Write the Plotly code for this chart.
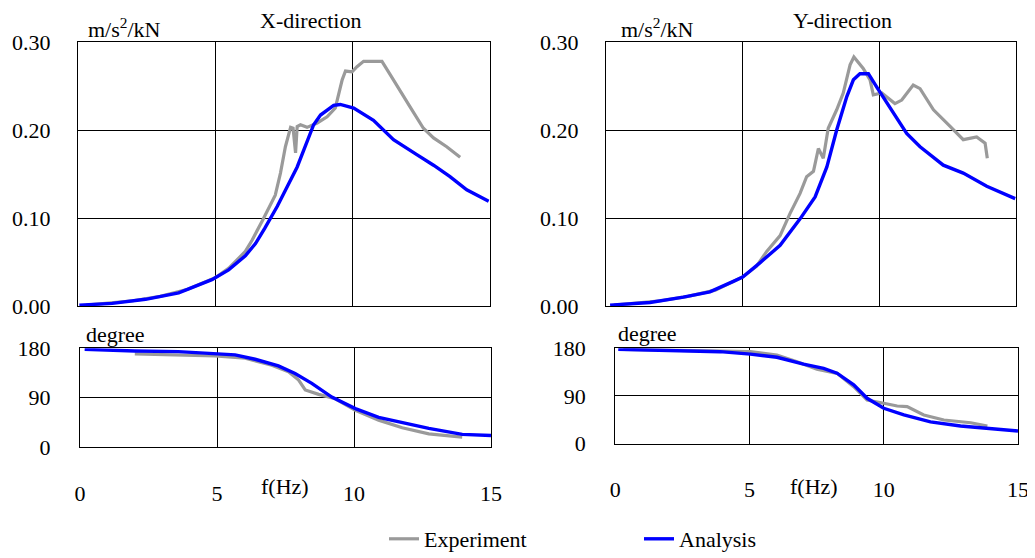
import plotly.graph_objects as go

# ---------------- data ----------------
# X-direction, magnitude (m/s^2/kN)
x_mag_ana_f = [0.05, 1.25, 2.46, 3.67, 4.88, 5.49, 6.10, 6.47, 6.80, 7.26, 7.99, 8.59, 8.84, 9.32, 9.56,
               10.05, 10.77, 11.50, 12.35, 12.96, 13.56, 14.17, 14.97]
x_mag_ana_v = [0.001, 0.003, 0.0076, 0.015, 0.030, 0.041, 0.057, 0.071, 0.088, 0.113, 0.158, 0.206, 0.217,
               0.228, 0.229, 0.225, 0.211, 0.189, 0.172, 0.160, 0.147, 0.132, 0.119]
x_mag_exp_f = [0.3, 2.0, 3.0, 4.0, 5.0, 5.5, 6.10, 6.35, 6.72, 7.02, 7.19, 7.38, 7.56, 7.75, 7.84, 7.93,
               7.99, 8.11, 8.35, 8.72, 9.08, 9.38, 9.50, 9.63, 9.75, 9.99, 10.17, 10.41, 10.77, 11.08,
               11.38, 11.75, 12.11, 12.59, 12.96, 13.44, 13.68, 13.93]
x_mag_exp_v = [0.001, 0.006, 0.011, 0.019, 0.032, 0.043, 0.062, 0.075, 0.097, 0.115, 0.126, 0.151, 0.181,
               0.203, 0.202, 0.174, 0.204, 0.206, 0.203, 0.208, 0.215, 0.225, 0.242, 0.257, 0.267, 0.266,
               0.272, 0.278, 0.278, 0.278, 0.263, 0.245, 0.226, 0.202, 0.191, 0.181, 0.175, 0.169]

# X-direction, phase (degree)
x_ph_ana_f = [0.17, 2.0, 3.59, 4.93, 5.66, 6.39, 7.24, 7.85, 8.46, 9.19, 10.05, 10.90, 11.76, 12.73, 13.95, 15.0]
x_ph_ana_v = [178, 175, 174, 170, 168, 160, 148, 134, 116, 91, 70, 54, 44, 34, 23, 21]
x_ph_exp_f = [2.0, 3.59, 4.93, 6.03, 7.0, 7.61, 7.98, 8.22, 8.71, 9.32, 10.05, 10.90, 11.76, 12.73, 13.95]
x_ph_exp_v = [170, 168, 166, 162, 149, 137, 122, 104, 96, 88, 67, 49, 35, 24, 18]

# Y-direction, magnitude (m/s^2/kN)
y_mag_ana_f = [0.15, 1.61, 2.83, 3.80, 4.66, 5.0, 5.63, 6.37, 7.10, 7.65, 8.08, 8.44, 8.81, 9.05, 9.29,
               9.60, 9.90, 10.39, 11.00, 11.49, 12.34, 13.07, 13.93, 14.97]
y_mag_ana_v = [0.001, 0.004, 0.010, 0.016, 0.028, 0.033, 0.049, 0.069, 0.099, 0.124, 0.158, 0.200, 0.238,
               0.257, 0.264, 0.264, 0.249, 0.225, 0.196, 0.181, 0.160, 0.151, 0.136, 0.122]
y_mag_exp_f = [0.3, 2.0, 3.0, 4.0, 5.0, 5.5, 5.88, 6.37, 6.73, 7.10, 7.34, 7.59, 7.77, 7.95, 8.13, 8.44,
               8.68, 8.93, 9.07, 9.41, 9.66, 9.78, 10.09, 10.57, 10.82, 11.24, 11.49, 11.98, 12.59,
               13.07, 13.56, 13.87, 13.95]
y_mag_exp_v = [0.001, 0.006, 0.011, 0.018, 0.033, 0.045, 0.062, 0.080, 0.105, 0.128, 0.147, 0.153, 0.179,
               0.168, 0.202, 0.223, 0.242, 0.274, 0.283, 0.270, 0.257, 0.240, 0.242, 0.230, 0.234, 0.251,
               0.247, 0.223, 0.204, 0.189, 0.192, 0.185, 0.168]

# Y-direction, phase (degree)
y_ph_ana_f = [0.11, 2.29, 3.9, 5.03, 6.02, 7.01, 7.76, 8.26, 8.88, 9.38, 10.0, 10.75, 11.74, 12.86, 13.86, 15.0]
y_ph_ana_v = [178, 175.5, 173.6, 169, 163, 150, 142, 133, 111, 85.5, 66.6, 54, 41, 33, 28.7, 23.6]
y_ph_exp_f = [0.3, 2.0, 3.9, 5.03, 6.02, 6.77, 7.51, 8.26, 8.88, 9.38, 10.0, 10.5, 10.87, 11.49, 12.24,
              13.24, 13.86]
y_ph_exp_v = [178, 176, 174.5, 173.6, 167.3, 154.7, 140.3, 132.7, 107.4, 82.2, 76, 70.9, 69.6, 53.9,
              44.4, 39.3, 33.1]

mag_ticks = [0.0, 0.1, 0.2, 0.3]
phase_ticks = [0, 90, 180]
f_ticks = [0, 5, 10, 15]

names = ["Experiment", "Analysis"]
GRAY = "#9a9a9a"
BLUE = "#0000ff"
FONT = "Liberation Serif, Times New Roman, Times, serif"

# ---------------- figure ----------------
# the page body has an 8px margin, so the figure starts 8px in from the window edge
OFF = 8
W, H = 1035 - OFF, 558 - OFF
def px(v):
    return (v - OFF) / W
def py(v):
    return 1 - (v - OFF) / H

fig = go.Figure()

panels = [
    ("x", "y", x_mag_exp_f, x_mag_exp_v, x_mag_ana_f, x_mag_ana_v, True),
    ("x2", "y2", x_ph_exp_f, x_ph_exp_v, x_ph_ana_f, x_ph_ana_v, False),
    ("x3", "y3", y_mag_exp_f, y_mag_exp_v, y_mag_ana_f, y_mag_ana_v, False),
    ("x4", "y4", y_ph_exp_f, y_ph_exp_v, y_ph_ana_f, y_ph_ana_v, False),
]
for xa, ya, ef, ev, af, av, sl in panels:
    fig.add_trace(go.Scatter(x=ef, y=ev, mode="lines", name=names[0], xaxis=xa, yaxis=ya,
                             line=dict(color=GRAY, width=3.2), showlegend=sl, legendgroup="e"))
    fig.add_trace(go.Scatter(x=af, y=av, mode="lines", name=names[1], xaxis=xa, yaxis=ya,
                             line=dict(color=BLUE, width=3.4), showlegend=sl, legendgroup="a"))

tf = dict(family=FONT, size=22, color="black")
common_x = dict(range=[0, 15], tickvals=f_ticks, showgrid=True, gridcolor="black", gridwidth=1,
                showline=True, linecolor="black", linewidth=1.3, mirror=True, zeroline=False,
                ticks="", tickfont=tf, automargin=False, ticklabeloverflow="allow")
common_y = dict(showgrid=True, gridcolor="black", gridwidth=1, showline=True, linecolor="black",
                linewidth=1.3, mirror=True, zeroline=False, ticks="", tickfont=tf, automargin=False,
                ticklabeloverflow="allow")

fig.update_layout(
    width=W, height=H,
    margin=dict(l=0, r=0, t=0, b=0, autoexpand=False),
    paper_bgcolor="white", plot_bgcolor="white",
    font=dict(family=FONT, size=22, color="black"),
    xaxis=dict(common_x, domain=[px(78), px(489.5)], showticklabels=False, anchor="y"),
    yaxis=dict(common_y, domain=[py(306), py(42)], range=[0, 0.3], tickvals=mag_ticks,
               tickformat=".2f", ticklabelstandoff=22, anchor="x"),
    xaxis2=dict(common_x, domain=[px(80), px(491)], anchor="y2", ticklabelstandoff=26),
    yaxis2=dict(common_y, domain=[py(447), py(348.3)], range=[0, 180], tickvals=phase_ticks,
                ticklabelstandoff=24, anchor="x2"),
    xaxis3=dict(common_x, domain=[px(606), px(1016)], showticklabels=False, anchor="y3"),
    yaxis3=dict(common_y, domain=[py(306), py(42)], range=[0, 0.3], tickvals=mag_ticks,
                tickformat=".2f", ticklabelstandoff=22, anchor="x3"),
    xaxis4=dict(common_x, domain=[px(615.3), px(1018)], anchor="y4", ticklabelstandoff=26),
    yaxis4=dict(common_y, domain=[py(443.5), py(348.3)], range=[0, 180], tickvals=phase_ticks,
                ticklabelstandoff=24, anchor="x4"),
    legend=dict(orientation="h", x=px(384), xanchor="left", y=py(539), yanchor="middle",
                entrywidth=210, entrywidthmode="pixels",
                font=tf, bgcolor="rgba(0,0,0,0)"),
)

annos = [
    ("X-direction", 310, 20, "center"),
    ("Y-direction", 842, 20, "center"),
    ("m/s<sup>2</sup>/kN", 86, 28, "left"),
    ("m/s<sup>2</sup>/kN", 619, 28, "left"),
    ("degree", 84, 334, "left"),
    ("degree", 616, 333, "left"),
    ("f(Hz)", 285, 487, "center"),
    ("f(Hz)", 814, 487, "center"),
]
for text, ax_, ay_, anc in annos:
    fig.add_annotation(text=text, x=px(ax_), y=py(ay_), xref="paper", yref="paper",
                       xanchor=anc, yanchor="middle", showarrow=False, font=tf)

fig.write_html("out.html")
